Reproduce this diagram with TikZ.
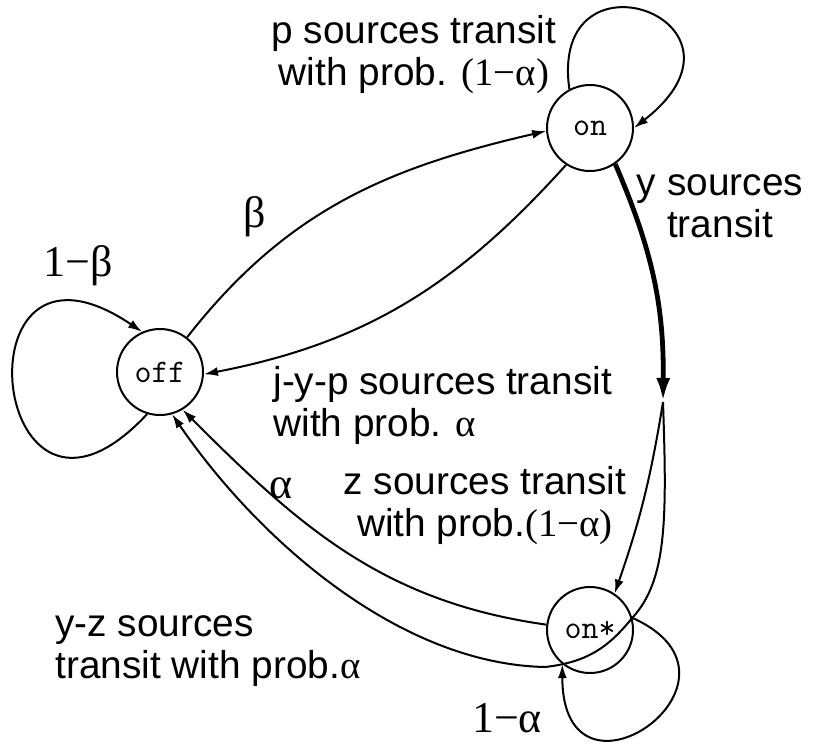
\documentclass[tikz,border=0pt]{standalone}
\usepackage{fontspec}
\setmainfont{Liberation Sans}
\newfontfamily\grk{Liberation Serif}
\usetikzlibrary{arrows.meta}

\begin{document}
\begin{tikzpicture}[x=0.5pt,y=0.5pt,
        statenode/.style={circle, draw=black, line width=1pt, minimum size=43pt, inner sep=0pt, font=\fontsize{16.5}{16.5}\selectfont\ttfamily},
        lbl/.style={font=\fontsize{19.4}{21}\selectfont, inner sep=0pt},
        biglbl/.style={font=\fontsize{22}{22}\selectfont\grk, inner sep=0pt},
        trans/.style={line width=1pt, -{Latex[length=7pt,width=4.5pt]}}
        ]
            \useasboundingbox (0,0) rectangle (813,-744);

            \node[statenode] (on) at (590,-128) {on};
            \node[statenode] (off) at (160,-372) {off};
            \node[statenode] (onstar) at (590,-630) {on*};
            \coordinate (J) at (663,-402);

            \node[lbl, align=center] (pL) at (414,-55) {p sources transit\\with prob. {\grk (1−α)}};
            \node[biglbl] (betaL) at (255,-217) {β};
            \node[biglbl] (onebetaL) at (78,-266) {1−β};
            \node[lbl, align=center] (yL) at (720,-206) {y sources\\transit};
            \node[lbl, align=left, anchor=west] (jypL) at (273,-405) {j-y-p sources transit\\with prob. {\grk α}};
            \node[biglbl] (alphaL) at (281,-488) {α};
            \node[lbl, align=center] (zL) at (485,-506) {z sources transit\\with prob.{\grk (1−α)}};
            \node[lbl, align=left, anchor=west] (yzL) at (55,-651) {y-z sources\\transit with prob.{\grk α}};
            \node[biglbl] (onealphaL) at (507,-718) {1−α};

            % transitions
            \draw[trans] (off.52) to[out=52,in=193] (on.184);
            \draw[trans] (on.237) to[out=228,in=11] (off.-3);
            \draw[trans] (on.118) .. controls +(98:150) and +(38:175) .. (on.0);
            \draw[trans] (off.-107) .. controls +(227:230) and +(146:230) .. (off.114);
            \draw[line width=2.4pt, -{Latex[length=12pt,width=7pt]}] (on.-55) to[bend left=12] (J);
            \draw[trans] (J) to[bend left=5] (onstar.56);
            \draw[trans] (J) .. controls (667,-520) and (667,-580) .. (onstar.16)
                .. controls (610,-645) and (590,-662) .. (545,-667)
                .. controls (400,-664) and (259,-541) .. (off.-74);
            \draw[trans] (onstar.173) to[out=172,in=-45] (off.-59);
            \draw[trans] (onstar.16) .. controls +(-24:150) and +(270:160) .. (onstar.231);

        \end{tikzpicture}
\end{document}
